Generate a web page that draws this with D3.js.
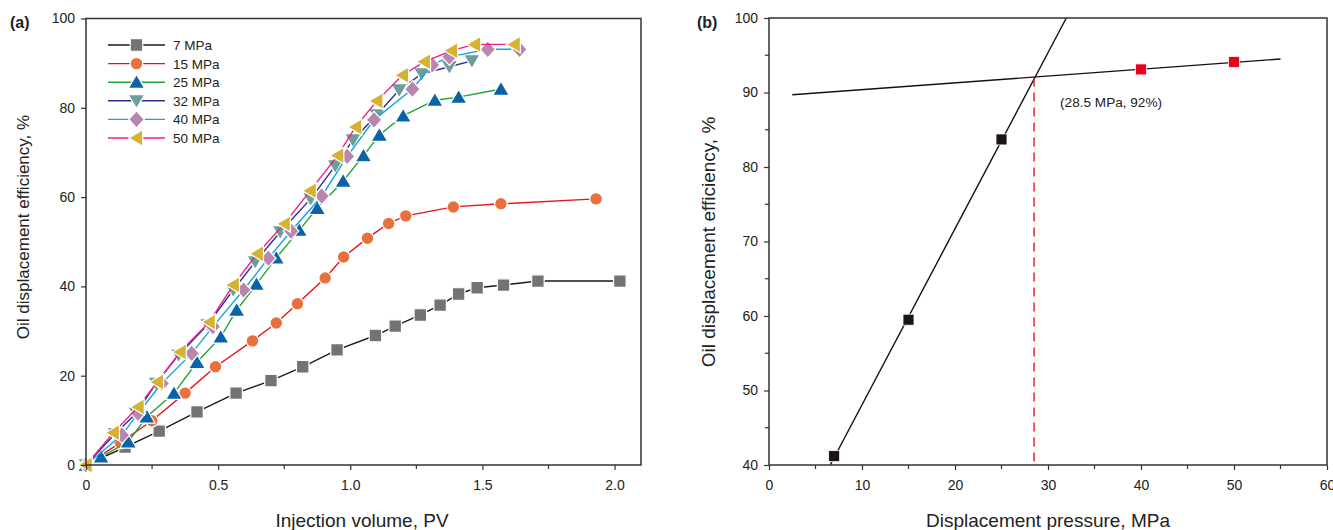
<!DOCTYPE html>
<html>
<head>
<meta charset="utf-8">
<script src="https://cdn.jsdelivr.net/npm/d3@7"></script>
<style>
  body { margin: 0; background: #fff; }
  svg text { font-family: "Liberation Sans", Arial, sans-serif; fill: #222; }
</style>
</head>
<body>
<svg id="chart" width="1333" height="530"></svg>
<script>
// ---- panel (a) data: injection volume (PV) vs displacement efficiency (%)
const pressures = ["7 MPa", "15 MPa", "25 MPa", "32 MPa", "40 MPa", "50 MPa"];
const lineColors = ["#1a1a1a", "#e8141c", "#22a33a", "#2b2f8f", "#16a3e4", "#ec1e8c"];
const markerColors = ["#737373", "#e8703c", "#0a63a8", "#6c9f99", "#b887b0", "#d6b233"];
const markerShapes = ["square", "circle", "triangleUp", "triangleDown", "diamond", "triangleLeft"];

const pv7 = [0, 0.148, 0.277, 0.42, 0.568, 0.70, 0.82, 0.95, 1.095, 1.17, 1.265, 1.34, 1.41, 1.48, 1.58, 1.71, 2.02];
const eff7 = [0, 4.0, 7.6, 11.9, 16.1, 18.9, 22.0, 25.8, 29.0, 31.1, 33.6, 35.8, 38.3, 39.7, 40.3, 41.2, 41.2];
const pv15 = [0, 0.13, 0.249, 0.375, 0.49, 0.63, 0.72, 0.80, 0.905, 0.975, 1.065, 1.145, 1.21, 1.39, 1.57, 1.93];
const eff15 = [0, 5.0, 9.9, 16.1, 22.0, 27.8, 31.8, 36.1, 41.9, 46.6, 50.8, 54.1, 55.8, 57.8, 58.5, 59.6];
const pv25 = [0, 0.057, 0.16, 0.23, 0.333, 0.42, 0.51, 0.57, 0.645, 0.72, 0.807, 0.875, 0.973, 1.05, 1.11, 1.20, 1.32, 1.41, 1.57];
const eff25 = [0, 1.8, 5.2, 10.8, 16.1, 23.0, 28.7, 34.7, 40.5, 46.4, 52.6, 57.5, 63.6, 69.3, 73.9, 78.2, 81.7, 82.4, 84.2];
const pv32 = [0, 0.11, 0.19, 0.265, 0.35, 0.46, 0.557, 0.64, 0.735, 0.85, 0.943, 1.01, 1.10, 1.185, 1.27, 1.375, 1.46];
const eff32 = [0, 7.0, 11.6, 18.3, 24.6, 31.4, 39.2, 45.5, 52.2, 59.6, 67.0, 72.8, 78.4, 84.0, 87.6, 89.2, 90.5];
const pv40 = [0, 0.136, 0.197, 0.287, 0.40, 0.48, 0.596, 0.69, 0.776, 0.892, 0.988, 1.09, 1.235, 1.31, 1.375, 1.52, 1.64];
const eff40 = [0, 6.7, 11.6, 18.3, 25.0, 31.0, 39.2, 46.3, 52.4, 60.2, 69.1, 77.3, 84.2, 89.6, 91.4, 93.1, 93.1];
const pv50 = [0, 0.103, 0.197, 0.27, 0.356, 0.466, 0.557, 0.648, 0.75, 0.848, 0.952, 1.02, 1.10, 1.197, 1.28, 1.383, 1.47, 1.62];
const eff50 = [0, 7.2, 13.0, 18.6, 25.3, 32.0, 40.3, 47.3, 54.0, 61.4, 69.3, 75.7, 81.5, 87.3, 90.3, 92.8, 94.2, 94.2];
const pvSeries = [pv7, pv15, pv25, pv32, pv40, pv50];
const effSeries = [eff7, eff15, eff25, eff32, eff40, eff50];

// ---- panel (b) data: displacement pressure (MPa) vs final efficiency (%)
const lowPressure = [7, 15, 25];
const lowEff = [41.2, 59.5, 83.7];
const highPressure = [40, 50];
const highEff = [93.1, 94.1];
const flatFitX = [2.5, 55];
const flatFitY = [89.7, 94.5];
const crossPoint = [28.5, 92];
const crossLabel = "(28.5 MPa, 92%)";

const aTicksX = [0, 0.5, 1.0, 1.5, 2.0];
const aTickLabelsX = ["0", "0.5", "1.0", "1.5", "2.0"];
const aMinorX = [0.25, 0.75, 1.25, 1.75];
const aTicksY = [0, 20, 40, 60, 80, 100];
const bTicksX = [0, 10, 20, 30, 40, 50, 60];
const bMinorX = [5, 15, 25, 35, 45, 55];
const bTicksY = [40, 50, 60, 70, 80, 90, 100];
const bMinorY = [45, 55, 65, 75, 85, 95];

const svg = d3.select("#chart");
const axisColor = "#333";

function symbolPath(shape, size){
  const s = size;
  if (shape === "square") return `M${-s/2} ${-s/2}h${s}v${s}h${-s}Z`;
  if (shape === "circle") return d3.symbol(d3.symbolCircle, s*s*0.8)();
  if (shape === "diamond") return `M0 ${-s*0.68}L${s*0.62} 0L0 ${s*0.68}L${-s*0.62} 0Z`;
  if (shape === "triangleUp") return `M0 ${-s*0.62}L${s*0.66} ${s*0.5}L${-s*0.66} ${s*0.5}Z`;
  if (shape === "triangleDown") return `M0 ${s*0.62}L${s*0.66} ${-s*0.5}L${-s*0.66} ${-s*0.5}Z`;
  if (shape === "triangleLeft") return `M${-s*0.62} 0L${s*0.5} ${-s*0.66}L${s*0.5} ${s*0.66}Z`;
}

function drawFrame(g, x, y){
  const [x0, x1] = x.range();
  const [y1, y0] = y.range();
  g.append("rect").attr("x", x0).attr("y", y0).attr("width", x1 - x0).attr("height", y1 - y0)
    .attr("fill", "none").attr("stroke", axisColor).attr("stroke-width", 1.5);
}

function drawAxes(g, x, y, ticksX, labelsX, minorX, ticksY, minorY){
  const [x0] = x.range();
  const [y1] = y.range();
  const ax = g.append("g").attr("transform", `translate(0,${y1})`)
    .call(d3.axisBottom(x).tickValues(ticksX).tickFormat((d, i) => labelsX[i]).tickSize(5).tickPadding(10));
  const ay = g.append("g").attr("transform", `translate(${x0},0)`)
    .call(d3.axisLeft(y).tickValues(ticksY).tickSize(5).tickPadding(6));
  [ax, ay].forEach(a => {
    a.select(".domain").remove();
    a.selectAll("line").attr("stroke", axisColor).attr("stroke-width", 1.2);
    a.selectAll("text").style("font-size", "14px").attr("fill", "#2a2a2a");
  });
  g.selectAll(null).data(minorX).enter().append("line")
    .attr("x1", d => x(d)).attr("x2", d => x(d)).attr("y1", y1).attr("y2", y1 + 4)
    .attr("stroke", axisColor).attr("stroke-width", 1.2);
  g.selectAll(null).data(minorY).enter().append("line")
    .attr("x1", x0).attr("x2", x0 - 4).attr("y1", d => y(d)).attr("y2", d => y(d))
    .attr("stroke", axisColor).attr("stroke-width", 1.2);
}

// ---------------- panel (a)
const xa = d3.scaleLinear().domain([0, 2.1]).range([86, 641]);
const ya = d3.scaleLinear().domain([0, 100]).range([465, 18.5]);
const ga = svg.append("g");

const line = d3.line().x(d => xa(d[0])).y(d => ya(d[1]));
pressures.forEach((p, k) => {
  const pts = pvSeries[k].map((v, i) => [v, effSeries[k][i]]);
  ga.append("path").attr("d", line(pts)).attr("fill", "none")
    .attr("stroke", lineColors[k]).attr("stroke-width", 1.4);
  ga.selectAll(null).data(pts).enter().append("path")
    .attr("d", symbolPath(markerShapes[k], 12.5))
    .attr("transform", d => `translate(${xa(d[0])},${ya(d[1])})`)
    .attr("fill", markerColors[k]).attr("stroke", "#fff").attr("stroke-width", 1.2);
});

drawFrame(ga, xa, ya);
drawAxes(ga, xa, ya, aTicksX, aTickLabelsX, aMinorX, aTicksY, []);

// legend
const legend = ga.append("g");
pressures.forEach((p, k) => {
  const yy = 45 + k * 18.6;
  legend.append("line").attr("x1", 108).attr("x2", 165).attr("y1", yy).attr("y2", yy)
    .attr("stroke", lineColors[k]).attr("stroke-width", 1.4);
  legend.append("path").attr("d", symbolPath(markerShapes[k], 12.5))
    .attr("transform", `translate(136.5,${yy})`)
    .attr("fill", markerColors[k]).attr("stroke", "#fff").attr("stroke-width", 1.2);
  legend.append("text").attr("x", 173).attr("y", yy + 5).style("font-size", "13.5px").text(p);
});

ga.append("text").attr("x", 362).attr("y", 527).attr("text-anchor", "middle")
  .style("font-size", "19px").text("Injection volume, PV");
ga.append("text").attr("transform", "translate(29,227) rotate(-90)").attr("text-anchor", "middle")
  .style("font-size", "17px").text("Oil displacement efficiency, %");
ga.append("text").attr("x", 10).attr("y", 28).style("font-size", "16px").style("font-weight", "bold").text("(a)");

// ---------------- panel (b)
const xb = d3.scaleLinear().domain([0, 60]).range([769, 1327]);
const yb = d3.scaleLinear().domain([40, 100]).range([465, 18]);
const gb = svg.append("g");

// least-squares fit through the low-pressure points
const mx = d3.mean(lowPressure), my = d3.mean(lowEff);
const sxy = d3.sum(lowPressure, (v, i) => (v - mx) * (lowEff[i] - my));
const sxx = d3.sum(lowPressure, v => (v - mx) * (v - mx));
const slope = sxy / sxx, icpt = my - slope * mx;
const steepLine = [[(40 - icpt) / slope, 40], [(100 - icpt) / slope, 100]];
const lineB = d3.line().x(d => xb(d[0])).y(d => yb(d[1]));

gb.append("path").attr("d", lineB(steepLine)).attr("fill", "none").attr("stroke", "#111").attr("stroke-width", 1.4);
gb.append("path").attr("d", lineB(flatFitX.map((v, i) => [v, flatFitY[i]])))
  .attr("fill", "none").attr("stroke", "#111").attr("stroke-width", 1.4);
gb.append("line").attr("x1", xb(crossPoint[0])).attr("x2", xb(crossPoint[0]))
  .attr("y1", yb(crossPoint[1])).attr("y2", yb(40))
  .attr("stroke", "#e8141c").attr("stroke-width", 1.4).attr("stroke-dasharray", "9,6");

gb.selectAll(null).data(lowPressure.map((v, i) => [v, lowEff[i]])).enter().append("path")
  .attr("d", symbolPath("square", 11))
  .attr("transform", d => `translate(${xb(d[0])},${yb(d[1])})`)
  .attr("fill", "#1c1414").attr("stroke", "#fff").attr("stroke-width", 0.8);
gb.selectAll(null).data(highPressure.map((v, i) => [v, highEff[i]])).enter().append("path")
  .attr("d", symbolPath("square", 11))
  .attr("transform", d => `translate(${xb(d[0])},${yb(d[1])})`)
  .attr("fill", "#e8001c").attr("stroke", "#fff").attr("stroke-width", 0.8);

gb.append("text").attr("x", xb(crossPoint[0]) + 26).attr("y", yb(crossPoint[1]) + 29)
  .style("font-size", "13.6px").text(crossLabel);

drawFrame(gb, xb, yb);
drawAxes(gb, xb, yb, bTicksX, bTicksX.map(String), bMinorX, bTicksY, bMinorY);

gb.append("text").attr("x", 1048).attr("y", 527).attr("text-anchor", "middle")
  .style("font-size", "19px").text("Displacement pressure, MPa");
gb.append("text").attr("transform", "translate(715,242) rotate(-90)").attr("text-anchor", "middle")
  .style("font-size", "19px").text("Oil displacement efficiency, %");
gb.append("text").attr("x", 697).attr("y", 28).style("font-size", "16px").style("font-weight", "bold").text("(b)");
</script>
</body>
</html>
